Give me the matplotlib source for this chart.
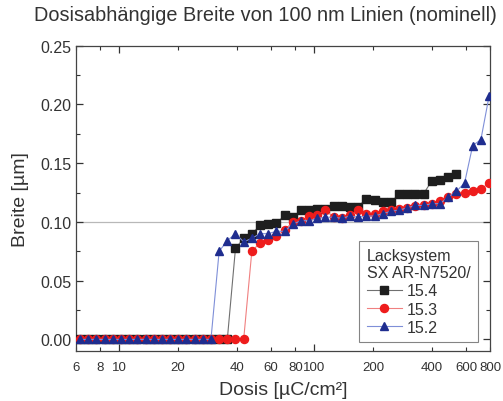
import matplotlib
matplotlib.use("Agg")
import matplotlib.pyplot as plt

# ---------------------------------------------
# Data
# ---------------------------------------------
dose = [6.3, 6.94, 7.64, 8.42, 9.27, 10.21, 11.24, 12.38, 13.64, 15.02,
        16.55, 18.22, 20.07, 22.10, 24.34, 26.81, 29.53, 32.53, 35.82, 39.45,
        43.45, 47.86, 52.71, 58.06, 63.94, 70.42, 77.56, 85.43, 94.09, 103.6,
        114.1, 125.7, 138.4, 152.5, 167.9, 185.0, 203.7, 224.4, 247.1, 272.2,
        299.7, 330.1, 363.6, 400.5, 441.0, 485.8, 535.0, 589.3, 649.0, 714.8,
        787.2]

# 15.4 (black squares), stops after 535
width_154 = [0.0] * 19 + [
    0.0775, 0.086, 0.090, 0.097, 0.098, 0.099, 0.1055, 0.104, 0.110, 0.110,
    0.111, 0.111, 0.1136, 0.1136, 0.1127, 0.113, 0.1198, 0.1184, 0.117, 0.117,
    0.1235, 0.124, 0.124, 0.124, 0.135, 0.136, 0.138, 0.1405]

# 15.3 (red circles)
width_153 = [0.0] * 21 + [
    0.0752, 0.082, 0.0845, 0.088, 0.093, 0.100, 0.101, 0.105, 0.106, 0.110,
    0.104, 0.103, 0.106, 0.110, 0.1065, 0.107, 0.109, 0.110, 0.111, 0.112,
    0.1135, 0.114, 0.1155, 0.118, 0.121, 0.124, 0.125, 0.126, 0.128, 0.133]

# 15.2 (blue triangles)
width_152 = [0.0] * 17 + [
    0.075, 0.084, 0.090, 0.083, 0.086, 0.090, 0.090, 0.092, 0.092, 0.098,
    0.101, 0.101, 0.103, 0.104, 0.104, 0.103, 0.105, 0.104, 0.105, 0.105,
    0.107, 0.109, 0.110, 0.112, 0.114, 0.114, 0.1155, 0.1155, 0.121, 0.126,
    0.133, 0.165, 0.170, 0.207]

series_labels = ["15.4", "15.3", "15.2"]

x_major = [10, 100]
x_minor = [6, 8, 20, 40, 60, 80, 200, 400, 600, 800]
y_ticks = [0.00, 0.05, 0.10, 0.15, 0.20, 0.25]

# ---------------------------------------------
# Plot
# ---------------------------------------------
plt.rcParams.update({
    "font.family": ["Liberation Sans", "DejaVu Sans"],
})

fig = plt.figure(figsize=(5.03, 4.02), dpi=100)
ax = fig.add_axes([0.151, 0.124, 0.824, 0.760])

ax.axhline(0.10, color="#b8b8b8", lw=0.9, zorder=1)

ax.plot(dose[:len(width_154)], width_154, color="#707070", lw=0.8,
        marker="s", ms=5.4, mfc="#1e1e1e", mec="#1e1e1e",
        label=series_labels[0], zorder=3)
ax.plot(dose, width_153, color="#f08080", lw=0.8,
        marker="o", ms=5.8, mfc="#ee1c1c", mec="#ee1c1c",
        label=series_labels[1], zorder=4)
ax.plot(dose, width_152, color="#7f8fd8", lw=0.8,
        marker="^", ms=6.2, mfc="#1f2d8f", mec="#1f2d8f",
        label=series_labels[2], zorder=5)

ax.set_xscale("log")
ax.set_xlim(6, 800)
ax.set_ylim(-0.01, 0.25)

ax.set_xticks(x_major)
ax.set_xticklabels([str(v) for v in x_major])
ax.set_xticks(x_minor, minor=True)
ax.set_xticklabels([str(v) for v in x_minor], minor=True)
ax.set_yticks(y_ticks)
ax.set_yticklabels([f"{v:.2f}" for v in y_ticks])
ax.set_yticks([0.025, 0.075, 0.125, 0.175, 0.225], minor=True)

ax.tick_params(axis="x", which="both", direction="in", top=True,
               labelsize=9.5, pad=7, colors="#333333")
ax.tick_params(axis="x", which="major", length=5, width=0.9)
ax.tick_params(axis="x", which="minor", length=3, width=0.8)
ax.tick_params(axis="y", which="both", direction="in", right=True,
               labelsize=11.5, colors="#333333")
ax.tick_params(axis="y", which="major", length=5, width=0.9)
ax.tick_params(axis="y", which="minor", length=3, width=0.8)

for spine in ax.spines.values():
    spine.set_color("#444444")
    spine.set_linewidth(0.9)

ax.set_xlabel("Dosis [µC/cm²]", fontsize=14, color="#333333", labelpad=6)
ax.set_ylabel("Breite [µm]", fontsize=14, color="#333333", labelpad=8)

fig.text(0.527, 0.962, "Dosisabhängige Breite von 100 nm Linien (nominell)",
         ha="center", va="center", fontsize=14.3, color="#333333")

leg = ax.legend(title="Lacksystem\nSX AR-N7520/", loc="lower right",
                bbox_to_anchor=(0.969, 0.03), fontsize=11.5, title_fontsize=11.5,
                frameon=True, fancybox=False, edgecolor="#666666",
                handlelength=2.2, handletextpad=0.3, labelspacing=0.2,
                borderpad=0.45, borderaxespad=0.0)
leg._legend_box.align = "left"
leg.get_frame().set_linewidth(0.8)
for t in leg.get_texts():
    t.set_color("#333333")
leg.get_title().set_color("#333333")

fig.savefig("out.png", dpi=100)
